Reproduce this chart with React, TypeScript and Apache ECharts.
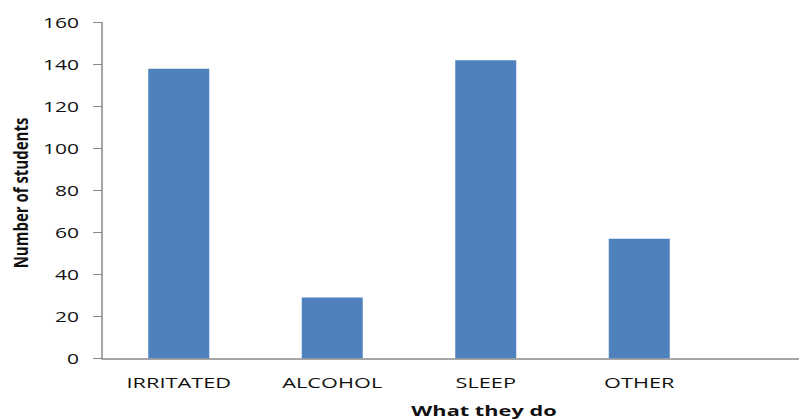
import React, { useEffect, useRef } from "react";
import * as echarts from "echarts";

// Coping behaviours reported by students
const categories = ["IRRITATED", "ALCOHOL", "SLEEP", "OTHER", ""];
const studentCounts: (number | null)[] = [138, 29, 142, 57, null];
const yTickValues = [0, 20, 40, 60, 80, 100, 120, 140, 160];
const yTitle = "Number of students";
const xTitle = "What they do";

const FONT = "'Open Sans', sans-serif";
const BAR_COLOR = "#4F81BD";
const AXIS_COLOR = "#888888";
const TEXT_COLOR = "#111111";
const STRETCH = 1.45; // wide lettering used throughout the chart

export default function App() {
  const ref = useRef<HTMLDivElement>(null);

  useEffect(() => {
    if (!ref.current) return;
    const chart = echarts.init(ref.current, null, { renderer: "svg" });
    chart.setOption({
      animation: false,
      backgroundColor: "#ffffff",
      grid: {
        left: 102,
        top: 22.5,
        width: 767.5,
        height: 335.8,
        outerBoundsMode: "none",
        containLabel: false,
      },
      xAxis: {
        type: "category",
        data: categories,
        axisLine: { show: true, lineStyle: { color: AXIS_COLOR, width: 1.5 } },
        axisTick: { show: false },
        axisLabel: { show: false },
        splitLine: { show: false },
      },
      yAxis: {
        type: "value",
        min: yTickValues[0],
        max: yTickValues[yTickValues.length - 1],
        interval: yTickValues[1] - yTickValues[0],
        axisLine: { show: true, lineStyle: { color: AXIS_COLOR, width: 1.5 } },
        axisTick: { show: true, inside: false, length: 9, lineStyle: { color: AXIS_COLOR } },
        axisLabel: { show: false },
        splitLine: { show: false },
      },
      series: [
        {
          type: "bar",
          data: studentCounts,
          barWidth: 61,
          itemStyle: { color: BAR_COLOR },
        },
      ],
    });

    // Axis labels placed through the axes' own scales, drawn with wide lettering
    const tickLabels = yTickValues.map((v) => {
      const py = chart.convertToPixel({ yAxisIndex: 0 }, v) as number;
      return {
        type: "text",
        x: 79,
        y: py,
        scaleX: STRETCH,
        style: {
          text: String(v),
          fontFamily: FONT,
          fontSize: 14.5,
          fill: TEXT_COLOR,
          align: "right",
          verticalAlign: "middle",
        },
      };
    });
    const catLabels = categories
      .filter((c) => c !== "")
      .map((c) => {
        const px = chart.convertToPixel({ xAxisIndex: 0 }, c) as number;
        return {
          type: "text",
          x: px,
          y: 382,
          scaleX: STRETCH,
          style: {
            text: c,
            fontFamily: FONT,
            fontSize: 15,
            fill: TEXT_COLOR,
            align: "center",
            verticalAlign: "middle",
          },
        };
      });

    chart.setOption({
      graphic: [
        ...tickLabels,
        ...catLabels,
        {
          type: "text",
          x: 20,
          y: 193,
          rotation: Math.PI / 2,
          scaleY: 1.3,
          style: {
            text: yTitle,
            fontFamily: FONT,
            fontWeight: "bold",
            fontSize: 15,
            fill: TEXT_COLOR,
            align: "center",
            verticalAlign: "middle",
          },
        },
        {
          type: "text",
          x: 484,
          y: 410,
          scaleX: STRETCH,
          style: {
            text: xTitle,
            fontFamily: FONT,
            fontWeight: "bold",
            fontSize: 15,
            fill: TEXT_COLOR,
            align: "center",
            verticalAlign: "middle",
          },
        },
      ],
    });
    return () => chart.dispose();
  }, []);

  return (
    <div
      ref={ref}
      style={{ position: "fixed", left: 0, top: 0, width: 799, height: 419, overflow: "hidden" }}
    />
  );
}
